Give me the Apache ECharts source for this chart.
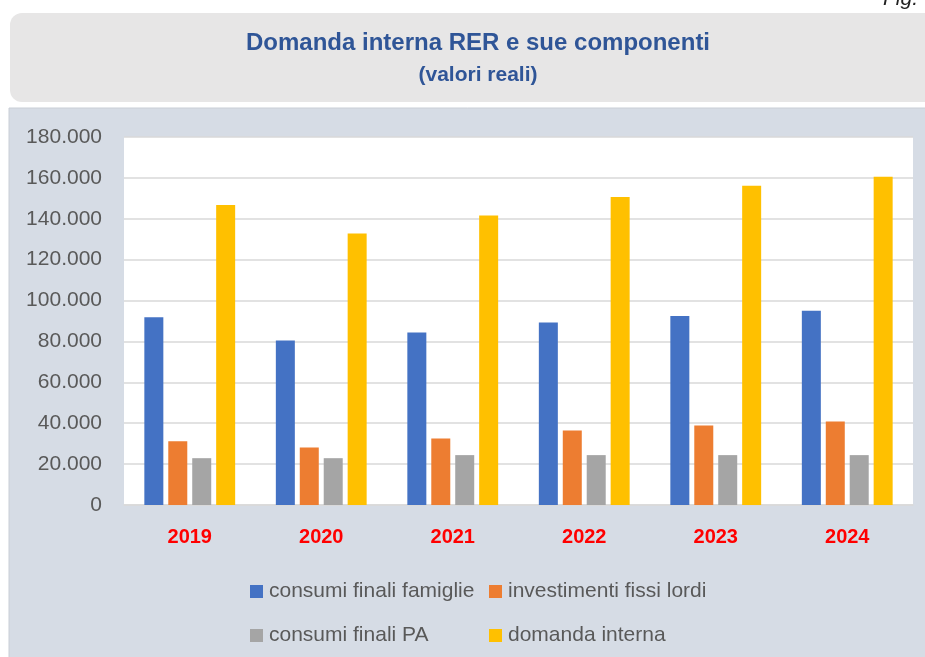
<!DOCTYPE html>
<html>
<head>
<meta charset="utf-8">
<script src="https://cdn.jsdelivr.net/npm/echarts@6/dist/echarts.min.js"></script>
<style>
html,body{margin:0;padding:0;background:#fff;}
#c{width:925px;height:657px;}
</style>
</head>
<body>
<div id="c"></div>
<script>
const categories = ['2019','2020','2021','2022','2023','2024'];
const consumiFamiglie = [91800, 80500, 84400, 89300, 92500, 95000];
const investimenti = [31200, 28100, 32500, 36400, 38900, 40800];
const consumiPA = [22900, 22900, 24400, 24400, 24400, 24400];
const domandaInterna = [146800, 132800, 141600, 150600, 156200, 160600];
const seriesNames = ['consumi finali famiglie','investimenti fissi lordi','consumi finali PA','domanda interna'];
const colors = ['#4472c4','#ed7d31','#a5a5a5','#ffc000'];
const yTicks = {min:0, max:180000, interval:20000};

const FONT = 'Liberation Sans';
const chart = echarts.init(document.getElementById('c'), null, {renderer:'canvas'});

function fmt(v){ return String(v).replace(/\B(?=(\d{3})+(?!\d))/g, '.'); }

const dataSets = [consumiFamiglie, investimenti, consumiPA, domandaInterna];
const legendPos = [[245,576],[484,576],[245,620],[484,620]];

chart.setOption({
  animation:false,
  color: colors,
  graphic:[
    {type:'rect', z:-10, shape:{x:10,y:13,width:940,height:89,r:12}, style:{fill:'#e7e6e6'}},
    {type:'rect', z:-10, shape:{x:9,y:108,width:930,height:560}, style:{fill:'#d6dce5', stroke:'#c9ced6', lineWidth:1}},
    {type:'text', z:10, style:{text:'Domanda interna RER e sue componenti', x:478, y:43, align:'center', verticalAlign:'middle', font:'bold 24px "'+FONT+'"', fill:'#2f5597'}},
    {type:'text', z:10, style:{text:'(valori reali)', x:478, y:75, align:'center', verticalAlign:'middle', font:'bold 21px "'+FONT+'"', fill:'#2f5597'}},
    {type:'text', z:10, style:{text:'Fig.', x:883, y:-1, align:'left', verticalAlign:'middle', font:'italic 21px "'+FONT+'"', fill:'#222'}}
  ],
  legend: seriesNames.map((n,i)=>({
    data:[n], left:legendPos[i][0], top:legendPos[i][1], icon:'rect', itemWidth:13, itemHeight:13,
    textStyle:{color:'#595959', fontSize:21, fontFamily:FONT, padding:[0,0,0,1]}
  })),
  grid:{left:124, right:12, top:137, bottom:152, show:true, backgroundColor:'#ffffff', borderWidth:0},
  xAxis:{
    type:'category', data:categories,
    axisLine:{lineStyle:{color:'#d9d9d9', width:1.5}},
    axisTick:{show:false},
    axisLabel:{color:'#ff0000', fontWeight:'bold', fontSize:20, fontFamily:FONT, margin:22}
  },
  yAxis:{
    type:'value', min:yTicks.min, max:yTicks.max, interval:yTicks.interval,
    axisLine:{show:false}, axisTick:{show:false},
    splitLine:{lineStyle:{color:'#d9d9d9', width:1.5}},
    axisLabel:{color:'#595959', fontSize:21, fontFamily:FONT, margin:22, formatter:fmt}
  },
  series: seriesNames.map((n,i)=>({
    name:n, type:'bar', data:dataSets[i], barWidth:19, barGap:'26%',
    itemStyle:{color:colors[i]}
  }))
});
</script>
</body>
</html>
